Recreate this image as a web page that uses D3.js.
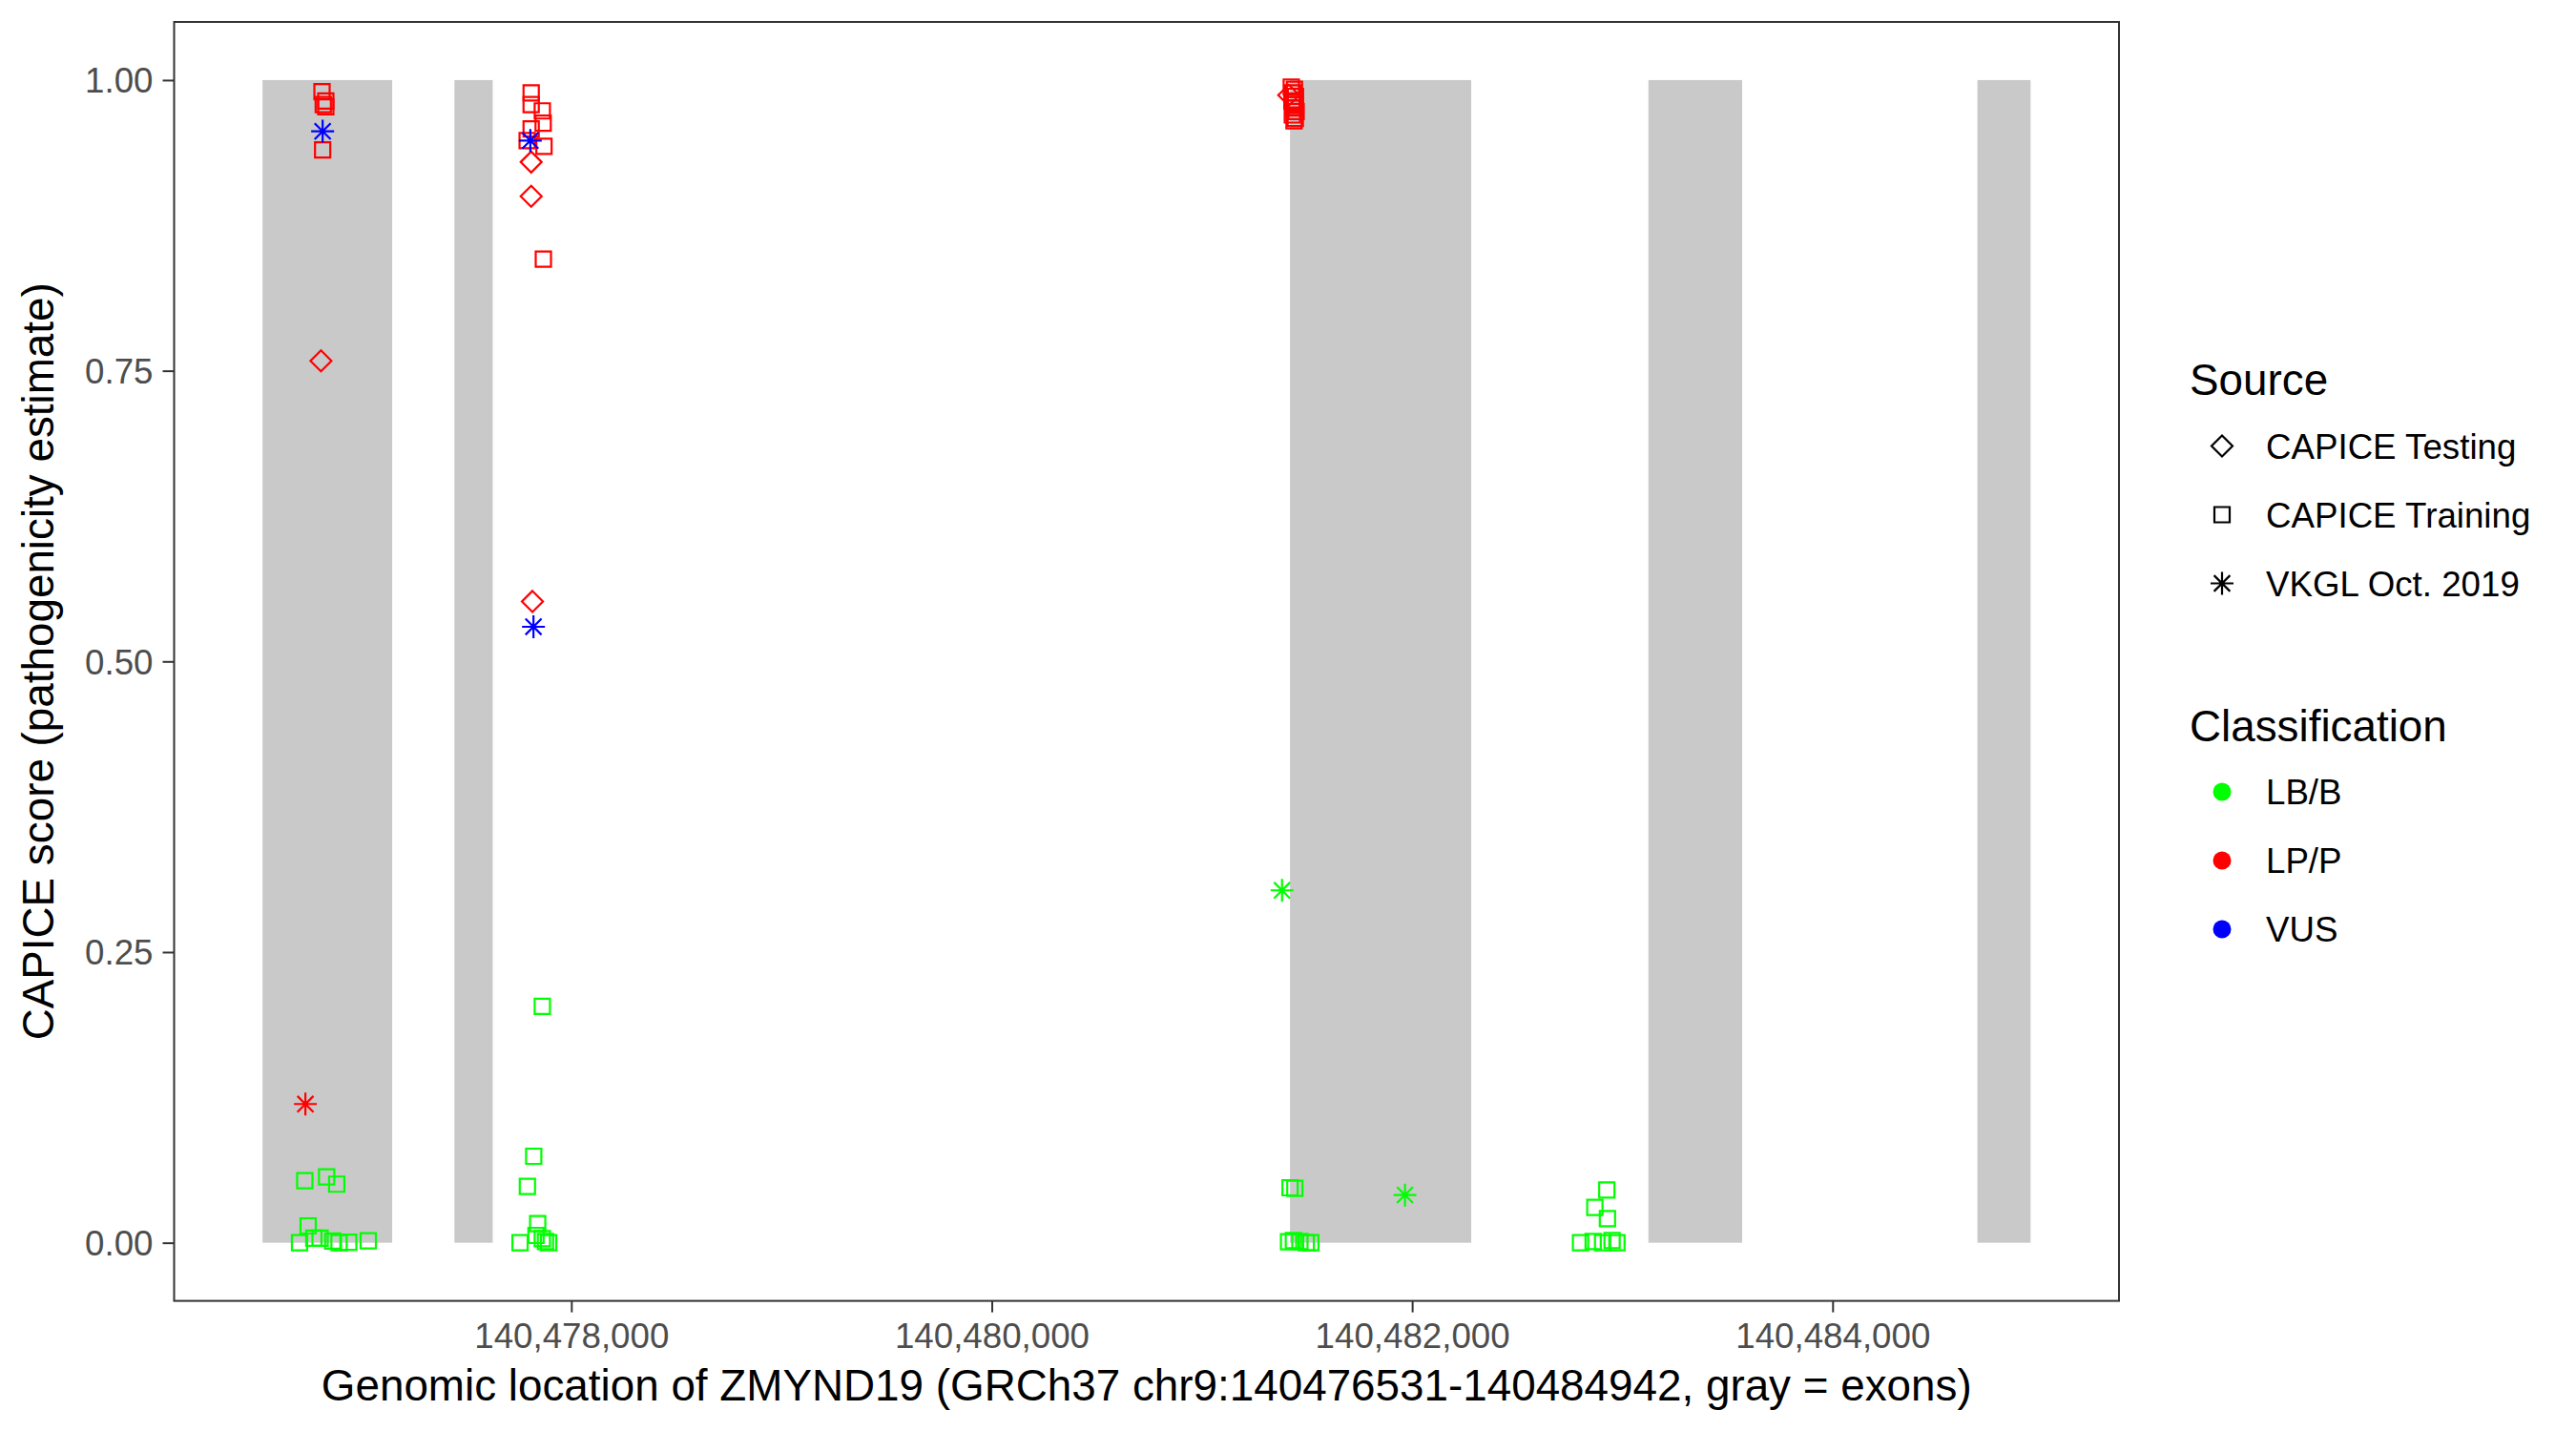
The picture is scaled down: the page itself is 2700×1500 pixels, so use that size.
<!DOCTYPE html>
<html>
<head>
<meta charset="utf-8">
<script src="https://cdn.jsdelivr.net/npm/d3@7"></script>
<style>
  html, body { margin: 0; padding: 0; background: #fff; }
  svg { display: block; font-family: "Liberation Sans", Arial, Helvetica, sans-serif; }
</style>
</head>
<body>
<svg id="chart" width="2700" height="1500"></svg>
<script>
// ---------- data ----------
const geneStart = 140476531;
const geneEnd = 140484942;
const exonStart = [140476531, 140477444, 140481419, 140483124, 140484689];
const exonEnd   = [140477148, 140477626, 140482281, 140483570, 140484942];

const xTicks = [140478000, 140480000, 140482000, 140484000];
const yTicks = [0, 0.25, 0.5, 0.75, 1];

const sourceLevels = ["CAPICE Testing", "CAPICE Training", "VKGL Oct. 2019"];
const classLevels = ["LB/B", "LP/P", "VUS"];
const classColors = ["#00FF00", "#FF0000", "#0000FF"];

// variants: position, score, source (T = testing, R = training, V = VKGL), class
const varPos = [
  // CAPICE Testing
  140476809, 140477809, 140477809, 140477815, 140481413,
  // CAPICE Training, LP/P
  140476814, 140476832, 140476832, 140476820, 140476817,
  140477809, 140477809, 140477862, 140477866, 140477809, 140477870, 140477790, 140477867,
  140481425, 140481440, 140481432, 140481445, 140481428, 140481442, 140481436, 140481448, 140481430, 140481444, 140481438,
  // CAPICE Training, LB/B
  140476707, 140476748, 140476775, 140476805, 140476865, 140476895, 140476941, 140477034, 140476732, 140476836, 140476884,
  140477862, 140477821, 140477791, 140477840, 140477832, 140477862, 140477756, 140477892, 140477877,
  140481419, 140481442, 140481412, 140481435, 140481466, 140481496, 140481518,
  140482926, 140482869, 140482929, 140482801, 140482861, 140482906, 140482951, 140482974,
  // VKGL
  140476817, 140476735, 140477805, 140477820, 140481381, 140481966
];
const varScore = [
  0.7585, 0.9295, 0.900, 0.5516, 0.987,
  0.990, 0.982, 0.977, 0.979, 0.940,
  0.989, 0.979, 0.9735, 0.963, 0.958, 0.943, 0.948, 0.846,
  0.994, 0.992, 0.989, 0.986, 0.982, 0.979, 0.976, 0.973, 0.970, 0.967, 0.965,
  0.000, 0.0145, 0.004, 0.004, 0.0015, 0.000, 0.0005, 0.0016, 0.0533, 0.0566, 0.0504,
  0.2033, 0.0744, 0.0484, 0.0164, 0.0063, 0.0036, 0.000, 0.000, 0.001,
  0.0473, 0.0468, 0.0008, 0.002, 0.001, 0.000, 0.000,
  0.0454, 0.0304, 0.0208, 0.000, 0.001, 0.000, 0.002, 0.000,
  0.956, 0.1193, 0.948, 0.5298, 0.3031, 0.041
];
const varSource = [
  "T","T","T","T","T",
  "R","R","R","R","R",
  "R","R","R","R","R","R","R","R",
  "R","R","R","R","R","R","R","R","R","R","R",
  "R","R","R","R","R","R","R","R","R","R","R",
  "R","R","R","R","R","R","R","R","R",
  "R","R","R","R","R","R","R",
  "R","R","R","R","R","R","R","R",
  "V","V","V","V","V","V"
];
const varClass = [
  "LP/P","LP/P","LP/P","LP/P","LP/P",
  "LP/P","LP/P","LP/P","LP/P","LP/P",
  "LP/P","LP/P","LP/P","LP/P","LP/P","LP/P","LP/P","LP/P",
  "LP/P","LP/P","LP/P","LP/P","LP/P","LP/P","LP/P","LP/P","LP/P","LP/P","LP/P",
  "LB/B","LB/B","LB/B","LB/B","LB/B","LB/B","LB/B","LB/B","LB/B","LB/B","LB/B",
  "LB/B","LB/B","LB/B","LB/B","LB/B","LB/B","LB/B","LB/B","LB/B",
  "LB/B","LB/B","LB/B","LB/B","LB/B","LB/B","LB/B",
  "LB/B","LB/B","LB/B","LB/B","LB/B","LB/B","LB/B","LB/B",
  "VUS","LP/P","VUS","VUS","LB/B","LB/B"
];

// ---------- layout ----------
const panel = { left: 182.5, right: 2221, top: 23, bottom: 1363.6 };
const svg = d3.select("#chart");

const span = geneEnd - geneStart;
const x = d3.scaleLinear()
  .domain([geneStart - 0.05 * span, geneEnd + 0.05 * span])
  .range([panel.left, panel.right]);
const y = d3.scaleLinear()
  .domain([-0.05, 1.05])
  .range([panel.bottom, panel.top]);
const color = d3.scaleOrdinal().domain(classLevels).range(classColors);

// custom symbol shapes (ggplot pch 0, 5, 8)
const squareType = { draw(ctx, size) { const h = Math.sqrt(size) / 2; ctx.moveTo(-h, -h); ctx.lineTo(h, -h); ctx.lineTo(h, h); ctx.lineTo(-h, h); ctx.closePath(); } };
const diamondType = { draw(ctx, size) { const r = Math.sqrt(size) / 2; ctx.moveTo(0, -r); ctx.lineTo(r, 0); ctx.lineTo(0, r); ctx.lineTo(-r, 0); ctx.closePath(); } };
const asteriskType = { draw(ctx, size) { const r = Math.sqrt(size) / 2; const d = r * 0.7;
  ctx.moveTo(-r, 0); ctx.lineTo(r, 0); ctx.moveTo(0, -r); ctx.lineTo(0, r);
  ctx.moveTo(-d, -d); ctx.lineTo(d, d); ctx.moveTo(-d, d); ctx.lineTo(d, -d); } };
const shapeFor = { "T": d3.symbol().type(diamondType).size(22 * 22),
                   "R": d3.symbol().type(squareType).size(16 * 16),
                   "V": d3.symbol().type(asteriskType).size(24 * 24) };
const legendShape = ["T", "R", "V"];

// ---------- panel ----------
svg.append("rect")
  .attr("x", panel.left).attr("y", panel.top)
  .attr("width", panel.right - panel.left).attr("height", panel.bottom - panel.top)
  .attr("fill", "#fff");

// exons
svg.append("g").selectAll("rect")
  .data(exonStart.map((s, i) => [s, exonEnd[i]]))
  .join("rect")
  .attr("x", d => x(d[0]))
  .attr("width", d => x(d[1]) - x(d[0]))
  .attr("y", y(1))
  .attr("height", y(0) - y(1))
  .attr("fill", "#C9C9C9");

// points
const pts = varPos.map((p, i) => ({ pos: p, score: varScore[i], src: varSource[i], cls: varClass[i] }));
svg.append("g").selectAll("path")
  .data(pts)
  .join("path")
  .attr("transform", d => `translate(${x(d.pos)},${y(d.score)})`)
  .attr("d", d => shapeFor[d.src]())
  .attr("fill", "none")
  .attr("stroke", d => color(d.cls))
  .attr("stroke-width", 2.2);

// border
svg.append("rect")
  .attr("x", panel.left).attr("y", panel.top)
  .attr("width", panel.right - panel.left).attr("height", panel.bottom - panel.top)
  .attr("fill", "none").attr("stroke", "#333333").attr("stroke-width", 2);

// ---------- axes ----------
const xAxis = d3.axisBottom(x).tickValues(xTicks).tickFormat(d3.format(",")).tickSize(12).tickPadding(10);
const gx = svg.append("g").attr("transform", `translate(0,${panel.bottom})`).call(xAxis);
gx.select(".domain").remove();
gx.selectAll(".tick line").attr("stroke", "#333333").attr("stroke-width", 2);
gx.selectAll(".tick text").attr("fill", "#4D4D4D").attr("font-size", 36.7)
  .attr("font-family", "Liberation Sans, Arial, sans-serif").attr("dy", null).attr("y", 49);

const yAxis = d3.axisLeft(y).tickValues(yTicks).tickFormat(d3.format(".2f")).tickSize(12).tickPadding(10);
const gy = svg.append("g").attr("transform", `translate(${panel.left},0)`).call(yAxis);
gy.select(".domain").remove();
gy.selectAll(".tick line").attr("stroke", "#333333").attr("stroke-width", 2);
gy.selectAll(".tick text").attr("fill", "#4D4D4D").attr("font-size", 36.7)
  .attr("font-family", "Liberation Sans, Arial, sans-serif").attr("dy", "0.35em").attr("x", -22);

// axis titles
svg.append("text")
  .attr("x", (panel.left + panel.right) / 2).attr("y", 1468)
  .attr("text-anchor", "middle").attr("font-size", 45.8).attr("fill", "#000")
  .text("Genomic location of ZMYND19 (GRCh37 chr9:140476531-140484942, gray = exons)");
svg.append("text")
  .attr("transform", `translate(56,${(panel.top + panel.bottom) / 2}) rotate(-90)`)
  .attr("text-anchor", "middle").attr("font-size", 45.8).attr("fill", "#000")
  .text("CAPICE score (pathogenicity estimate)");

// ---------- legends ----------
const legX = 2295, keyX = 2329, labX = 2375;
const leg = svg.append("g");
leg.append("text").attr("x", legX).attr("y", 414).attr("font-size", 45.8).text("Source");
sourceLevels.forEach((s, i) => {
  const cy = 467.5 + i * 72;
  leg.append("path").attr("transform", `translate(${keyX},${cy})`)
    .attr("d", shapeFor[legendShape[i]]()).attr("fill", "none")
    .attr("stroke", "#000").attr("stroke-width", 2.2);
  leg.append("text").attr("x", labX).attr("y", cy + 13).attr("font-size", 36.7).text(s);
});
leg.append("text").attr("x", legX).attr("y", 777).attr("font-size", 45.8).text("Classification");
classLevels.forEach((c, i) => {
  const cy = 830 + i * 72;
  leg.append("circle").attr("cx", keyX).attr("cy", cy).attr("r", 9.5).attr("fill", color(c));
  leg.append("text").attr("x", labX).attr("y", cy + 13).attr("font-size", 36.7).text(c);
});
</script>
</body>
</html>
